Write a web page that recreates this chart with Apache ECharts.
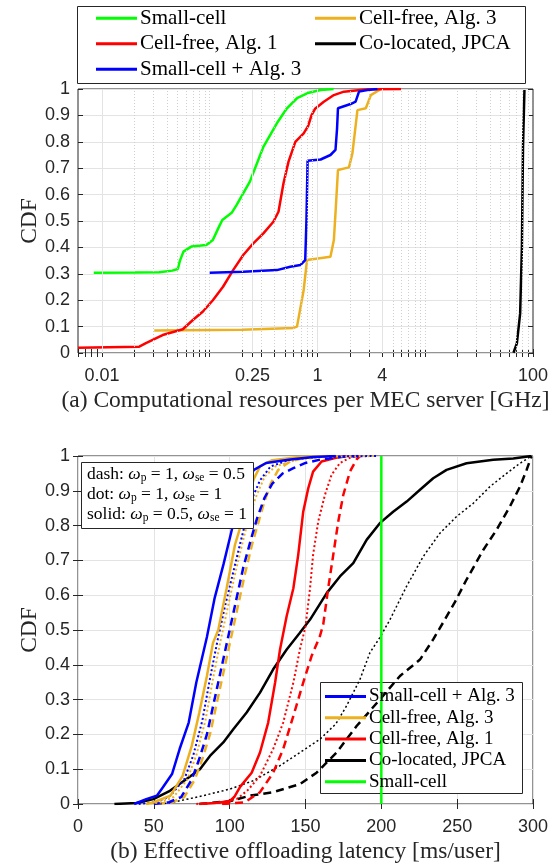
<!DOCTYPE html>
<html>
<head>
<meta charset="utf-8">
<script src="https://cdn.jsdelivr.net/npm/echarts@6/dist/echarts.min.js"></script>
<style>
  html, body { margin: 0; padding: 0; background: #fff; }
  #main { width: 556px; height: 865px; }
</style>
</head>
<body>
<div id="main"></div>
<script>
// ---- (a) computational resources per MEC server [GHz] vs CDF
const capSmallCell = [[0.0084,0.304],[0.02,0.305],[0.034,0.306],[0.045,0.312],[0.0506,0.318],[0.053,0.35],[0.0571,0.384],[0.0675,0.403],[0.0931,0.409],[0.107,0.428],[0.12,0.472],[0.131,0.504],[0.16,0.531],[0.178,0.561],[0.236,0.649],[0.315,0.781],[0.42,0.87],[0.521,0.927],[0.646,0.965],[0.83,0.986],[1.07,0.996],[1.41,1]];
const capCellFreeAlg1 = [[0.006,0.02],[0.0222,0.024],[0.0256,0.037],[0.0366,0.068],[0.0563,0.09],[0.0698,0.125],[0.0866,0.157],[0.107,0.2],[0.133,0.251],[0.165,0.314],[0.205,0.371],[0.254,0.415],[0.315,0.453],[0.39,0.497],[0.435,0.535],[0.484,0.643],[0.539,0.725],[0.623,0.8],[0.745,0.832],[0.82,0.86],[0.88,0.9],[0.95,0.925],[1.145,0.952],[1.42,0.977],[1.76,0.99],[2.91,0.999],[5.96,1]];
const capSmallAlg3 = [[0.1,0.304],[0.205,0.308],[0.42,0.314],[0.56,0.327],[0.694,0.333],[0.77,0.352],[0.79,0.5],[0.81,0.728],[1.07,0.733],[1.32,0.75],[1.47,0.769],[1.52,0.85],[1.55,0.927],[2.03,0.943],[2.26,0.952],[2.43,0.99],[2.91,0.996],[3.6,1]];
const capCellFreeAlg3 = [[0.0306,0.085],[0.2,0.088],[0.6,0.095],[0.646,0.1],[0.745,0.239],[0.8,0.352],[1.32,0.365],[1.42,0.428],[1.48,0.55],[1.55,0.693],[1.96,0.703],[2.11,0.756],[2.35,0.92],[2.81,0.927],[3.13,0.977],[3.88,1]];
const capColocated = [[65.9,0.001],[70.9,0.037],[76,0.15],[78.9,0.403],[80.8,0.78],[83.3,0.996]];
const capTicks = [0.01, 0.25, 1, 4, 100];

// ---- (b) effective offloading latency [ms/user] vs CDF
const latSmallAlg3Solid = [[37,0],[45,0.014],[52,0.024],[56,0.048],[62,0.086],[67,0.158],[73,0.234],[78,0.349],[85,0.48],[90,0.59],[96,0.69],[101,0.78],[106,0.87],[110,0.92],[116,0.96],[124,0.98],[140,0.99],[155,0.997],[170,1]];
const latSmallAlg3Dot = [[40,0],[50,0.005],[60,0.02],[70,0.07],[76,0.14],[82,0.24],[87,0.36],[92,0.47],[97,0.57],[102,0.66],[107,0.75],[111,0.82],[115,0.88],[120,0.93],[127,0.97],[140,0.99],[160,0.998],[197,1]];
const latSmallAlg3Dash = [[50,0],[60,0.005],[68,0.02],[75,0.07],[80,0.13],[85,0.2],[90,0.3],[95,0.4],[100,0.5],[104,0.58],[109,0.68],[114,0.76],[118,0.82],[123,0.88],[128,0.92],[135,0.95],[142,0.965],[150,0.98],[160,0.99],[175,0.998],[185,1]];
const latCellFreeAlg3Solid = [[45,0],[50,0.005],[61,0.024],[69,0.081],[75,0.167],[80,0.263],[85,0.368],[89,0.463],[92.5,0.5],[98,0.62],[103.5,0.745],[108,0.81],[112,0.88],[116,0.935],[120,0.97],[128,0.988],[146,0.997],[165,1]];
const latCellFreeAlg3Dot = [[45,0],[55,0.005],[63,0.02],[72,0.07],[78,0.14],[84,0.24],[89,0.36],[94,0.47],[99,0.57],[104,0.67],[109,0.76],[113,0.83],[118,0.89],[123,0.94],[130,0.97],[145,0.99],[165,0.998],[197,1]];
const latCellFreeAlg3Dash = [[52,0],[62,0.005],[70,0.02],[77,0.07],[82,0.13],[87,0.2],[92,0.3],[97,0.4],[102,0.5],[106,0.58],[110,0.66],[115,0.75],[119,0.81],[123,0.87],[127,0.92],[132,0.96],[140,0.985],[150,0.995],[165,1]];
const latCellFreeAlg1Solid = [[80,0],[90,0.003],[100,0.008],[103,0.02],[107,0.05],[114.5,0.09],[120,0.148],[125.4,0.234],[130,0.35],[133.2,0.444],[137.6,0.54],[142,0.62],[145.2,0.716],[148.5,0.84],[151.8,0.907],[155,0.955],[160.6,0.984],[170,0.995],[177,1]];
const latCellFreeAlg1Dot = [[78,0],[95,0.005],[105,0.015],[112,0.04],[120,0.081],[128.7,0.158],[135.3,0.234],[142,0.349],[146.3,0.444],[150,0.51],[153,0.62],[155,0.716],[158.4,0.812],[162.8,0.888],[167.2,0.946],[172.7,0.98],[179.3,0.995],[184,1]];
const latCellFreeAlg1Dash = [[95,0],[110,0.005],[120,0.034],[128.7,0.09],[135.3,0.158],[142,0.253],[148.5,0.349],[154,0.425],[159.5,0.482],[161.7,0.516],[165,0.621],[168.3,0.716],[171.6,0.812],[174.9,0.888],[179.3,0.955],[183.7,0.99],[186,1]];
const latColocatedSolid = [[24,0],[38.7,0.003],[49.7,0.014],[60.6,0.038],[71.6,0.072],[80.4,0.1],[87,0.138],[95.8,0.177],[102.4,0.215],[111.2,0.263],[120,0.32],[128.7,0.387],[137.6,0.444],[146.3,0.492],[153,0.53],[164,0.606],[172.7,0.654],[181.5,0.692],[190.3,0.759],[199,0.807],[207.8,0.84],[216.7,0.869],[225.5,0.903],[234.2,0.936],[243,0.96],[256.2,0.979],[273.8,0.989],[287,0.993],[299,1]];
const latColocatedDot = [[54,0],[62.8,0.005],[82.6,0.024],[100.2,0.043],[115.6,0.067],[133.2,0.11],[146.3,0.148],[159.5,0.186],[170,0.23],[177.1,0.282],[185.9,0.358],[192.5,0.435],[199,0.478],[205.7,0.53],[216.7,0.626],[227.6,0.711],[238.6,0.778],[249.6,0.826],[260.6,0.864],[271.6,0.912],[282.6,0.95],[291.4,0.979],[299,1]];
const latColocatedDash = [[80,0],[100,0.008],[113.4,0.024],[128.7,0.034],[146.3,0.057],[157.3,0.09],[170.5,0.148],[183.7,0.224],[199,0.3],[212.3,0.368],[225.5,0.415],[234.2,0.473],[241.9,0.53],[248.5,0.58],[256.2,0.645],[267.2,0.73],[276,0.788],[284.8,0.855],[291.4,0.912],[295.8,0.96],[299,1]];
const latSmallCell = [[200,0],[200,1]];

const NAME_SC = 'Small-cell', NAME_CF1 = 'Cell-free, Alg. 1', NAME_SC3 = 'Small-cell + Alg. 3',
      NAME_CF3 = 'Cell-free, Alg. 3', NAME_CO = 'Co-located, JPCA';
const COL = { green: '#00FF00', red: '#FF0000', blue: '#0000FF', orange: '#EDB120', black: '#000000' };

const AX = '#262626', GRIDC = '#e3e3e3';
const SANS = 'Liberation Sans', SERIF = 'Liberation Serif';

// log-axis minor grid positions (k x 10^n, not a labelled tick)
const minorVals = [];
for (let n = -3; n <= 1; n++) for (let k = 1; k <= 9; k++) {
  const v = +(k * Math.pow(10, n)).toPrecision(3);
  if (v >= 0.006 && v <= 100 && capTicks.indexOf(v) < 0) minorVals.push(v);
}

function line(name, data, color, xi, yi, type, width) {
  return {
    name: name, type: 'line', data: data, xAxisIndex: xi, yAxisIndex: yi,
    showSymbol: false, symbol: 'none', silent: true,
    lineStyle: { color: color, width: width || 2.5, type: type || 'solid' },
    itemStyle: { color: color }
  };
}

const DOT = [2, 2.5], DASH = [8, 5];

const series = [
  Object.assign(line(NAME_SC, capSmallCell, COL.green, 0, 0), {
    markLine: {
      silent: true, symbol: 'none', label: { show: false }, animation: false,
      data: minorVals.map(v => ({ xAxis: v, lineStyle: { color: '#cfcfcf', type: [1, 2], width: 1 } }))
        .concat(capTicks.slice(0, 4).map(v => ({ xAxis: v, lineStyle: { color: GRIDC, type: 'solid', width: 1 } })))
    }
  }),
  line(NAME_CF3, capCellFreeAlg3, COL.orange, 0, 0),
  line(NAME_CF1, capCellFreeAlg1, COL.red, 0, 0),
  line(NAME_CO, capColocated, COL.black, 0, 0),
  line(NAME_SC3, capSmallAlg3, COL.blue, 0, 0),

  line(NAME_CO, latColocatedDash, COL.black, 2, 2, DASH),
  line(NAME_CO, latColocatedDot, COL.black, 2, 2, DOT, 1.5),
  line(NAME_CO, latColocatedSolid, COL.black, 2, 2),
  line(NAME_CF1, latCellFreeAlg1Dash, COL.red, 2, 2, DASH),
  line(NAME_CF1, latCellFreeAlg1Dot, COL.red, 2, 2, DOT, 2),
  line(NAME_CF1, latCellFreeAlg1Solid, COL.red, 2, 2),
  line(NAME_CF3, latCellFreeAlg3Dash, COL.orange, 2, 2, DASH),
  line(NAME_SC3, latSmallAlg3Dash, COL.blue, 2, 2, DASH),
  line(NAME_CF3, latCellFreeAlg3Dot, COL.orange, 2, 2, DOT, 2),
  line(NAME_SC3, latSmallAlg3Dot, COL.blue, 2, 2, DOT, 2),
  line(NAME_CF3, latCellFreeAlg3Solid, COL.orange, 2, 2),
  line(NAME_SC3, latSmallAlg3Solid, COL.blue, 2, 2),
  line(NAME_SC, latSmallCell, COL.green, 2, 2)
];

const tickLabel = { color: AX, fontFamily: SANS, fontSize: 18 };
const axisName = { color: AX, fontFamily: SERIF, fontSize: 23.5 };

function legendBlock(left, top, names, fontSize, lineHeight, gap) {
  return {
    left: left, top: top, orient: 'vertical', padding: 0, itemGap: gap,
    itemWidth: 41, itemHeight: 3, icon: 'rect', selectedMode: false, data: names,
    textStyle: { fontFamily: SERIF, fontSize: fontSize, lineHeight: lineHeight, color: '#000', padding: [0, 0, 0, -2] }
  };
}

const option = {
  animation: false,
  backgroundColor: '#fff',
  grid: [
    { left: 78, right: 23, top: 89, height: 264, show: true, borderColor: AX, borderWidth: 1 },
    { left: 78, right: 23, top: 456, height: 349, show: true, borderColor: AX, borderWidth: 1 }
  ],
  xAxis: [
    {
      type: 'log', gridIndex: 0, min: 0.006, max: 100, position: 'bottom',
      name: '(a) Computational resources per MEC server [GHz]', nameLocation: 'middle', nameGap: 36,
      nameMoveOverlap: false, nameTextStyle: axisName,
      axisLine: { show: false },
      axisTick: { inside: true, length: 4, lineStyle: { color: AX }, customValues: capTicks.concat(minorVals) },
      axisLabel: { customValues: capTicks, margin: 14, formatter: v => String(v), ...tickLabel },
      splitLine: { show: false }, minorSplitLine: { show: false }
    },
    {
      type: 'log', gridIndex: 0, min: 0.006, max: 100, position: 'top',
      axisLine: { show: false }, axisLabel: { show: false }, splitLine: { show: false },
      axisTick: { inside: true, length: 4, lineStyle: { color: AX }, customValues: capTicks.concat(minorVals) }
    },
    {
      type: 'value', gridIndex: 1, min: 0, max: 300, interval: 50, position: 'bottom',
      name: '(b) Effective offloading latency [ms/user]', nameLocation: 'middle', nameGap: 36,
      nameMoveOverlap: false, nameTextStyle: axisName,
      axisLine: { show: false },
      axisTick: { inside: true, length: 5, lineStyle: { color: AX } },
      axisLabel: { margin: 14, ...tickLabel },
      splitLine: { show: true, lineStyle: { color: GRIDC, width: 1 } }
    },
    {
      type: 'value', gridIndex: 1, min: 0, max: 300, interval: 50, position: 'top',
      axisLine: { show: false }, axisLabel: { show: false }, splitLine: { show: false },
      axisTick: { inside: true, length: 5, lineStyle: { color: AX } }
    }
  ],
  yAxis: [
    {
      type: 'value', gridIndex: 0, min: 0, max: 1, interval: 0.1, position: 'left',
      name: 'CDF', nameLocation: 'middle', nameGap: 36, nameMoveOverlap: false, nameTextStyle: axisName,
      axisLine: { show: false },
      axisTick: { inside: true, length: 5, lineStyle: { color: AX } },
      axisLabel: { margin: 8, ...tickLabel },
      splitLine: { show: true, lineStyle: { color: GRIDC, width: 1 } }
    },
    {
      type: 'value', gridIndex: 0, min: 0, max: 1, interval: 0.1, position: 'right',
      axisLine: { show: false }, axisLabel: { show: false }, splitLine: { show: false },
      axisTick: { inside: true, length: 5, lineStyle: { color: AX } }
    },
    {
      type: 'value', gridIndex: 1, min: 0, max: 1, interval: 0.1, position: 'left',
      name: 'CDF', nameLocation: 'middle', nameGap: 36, nameMoveOverlap: false, nameTextStyle: axisName,
      axisLine: { show: false },
      axisTick: { inside: true, length: 5, lineStyle: { color: AX } },
      axisLabel: { margin: 8, ...tickLabel },
      splitLine: { show: true, lineStyle: { color: GRIDC, width: 1 } }
    },
    {
      type: 'value', gridIndex: 1, min: 0, max: 1, interval: 0.1, position: 'right',
      axisLine: { show: false }, axisLabel: { show: false }, splitLine: { show: false },
      axisTick: { inside: true, length: 5, lineStyle: { color: AX } }
    }
  ],
  legend: [
    legendBlock(96, 7, [NAME_SC, NAME_CF1, NAME_SC3], 21, 22.5, 3),
    legendBlock(315, 7, [NAME_CF3, NAME_CO], 21, 22.5, 3),
    legendBlock(325, 686, [NAME_SC3, NAME_CF3, NAME_CF1, NAME_CO, NAME_SC], 19, 21, 0.3)
  ],
  graphic: [
    { type: 'rect', z: 3, shape: { x: 77.5, y: 6.5, width: 448, height: 77 },
      style: { fill: '#fff', stroke: AX, lineWidth: 1 } },
    { type: 'rect', z: 3, shape: { x: 320.5, y: 682.5, width: 202, height: 111 },
      style: { fill: '#fff', stroke: AX, lineWidth: 1 } },
    { type: 'rect', z: 10, shape: { x: 81.5, y: 462.5, width: 172, height: 66 },
      style: { fill: '#fff', stroke: AX, lineWidth: 1 } },
    {
      type: 'text', z: 11, left: 87, top: 464,
      style: {
        text: 'dash: {i|ω}{s|p}{t| = 1,} {i|ω}{s|se}{t| = 0.5}\n' +
              'dot: {i|ω}{s|p}{t| = 1,} {i|ω}{s|se}{t| = 1}\n' +
              'solid: {i|ω}{s|p}{t| = 0.5,} {i|ω}{s|se}{t| = 1}',
        fontFamily: SERIF, fontSize: 17.5, lineHeight: 20, fill: '#000',
        rich: {
          i: { fontFamily: SERIF, fontSize: 17.5, fontStyle: 'italic', lineHeight: 20 },
          s: { fontFamily: SERIF, fontSize: 11.5, lineHeight: 20, verticalAlign: 'bottom' },
          t: { fontFamily: SERIF, fontSize: 17.5, lineHeight: 20 }
        }
      }
    }
  ],
  series: series
};

const chart = echarts.init(document.getElementById('main'));
chart.setOption(option);
</script>
</body>
</html>
